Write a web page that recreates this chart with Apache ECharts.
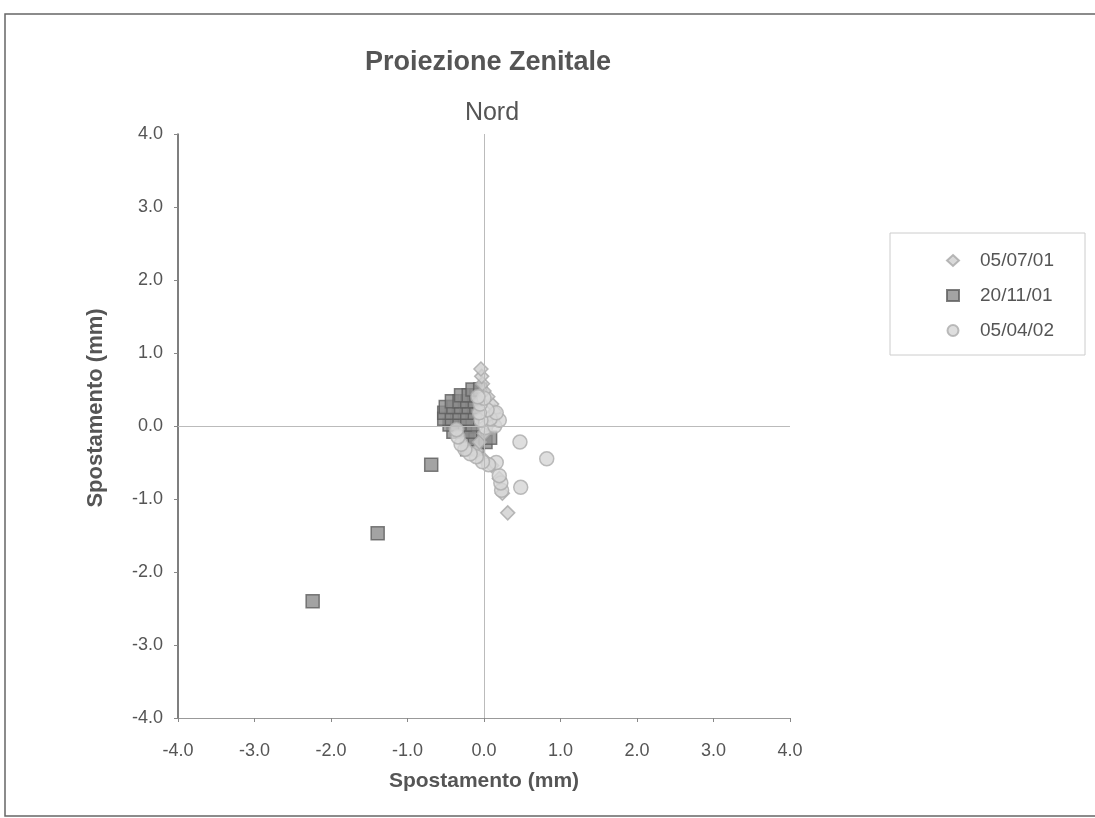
<!DOCTYPE html>
<html><head><meta charset="utf-8">
<script src="https://cdn.jsdelivr.net/npm/echarts@6/dist/echarts.min.js"></script>
<style>html,body{margin:0;padding:0;background:#fff}#c{width:1095px;height:818px}</style>
</head><body><div id="c"></div>
<script>
var seriesNames = ['05/07/01', '20/11/01', '05/04/02'];
var axisTicks = [-4, -3, -2, -1, 0, 1, 2, 3, 4];
// 05/07/01 – diamonds
var s050701 = [
  [0.31,-1.19],[0.24,-0.92],[0.20,-0.72],[0.10,-0.54],[0.00,-0.46],[-0.10,-0.34],
  [-0.06,-0.22],[0.00,-0.10],[0.06,0.02],[0.12,0.10],[0.14,0.20],[0.10,0.30],
  [0.05,0.40],[0.00,0.48],[-0.02,0.58],[-0.03,0.68],[-0.04,0.78]
];
// 20/11/01 – squares
var s201101 = [
  [-2.24,-2.40],[-1.39,-1.47],[-0.69,-0.53],
  [-0.22,-0.32],[-0.15,-0.30],[-0.08,-0.28],[-0.22,-0.18],[-0.12,-0.18],
  [-0.40,-0.08],[-0.28,-0.08],[-0.18,-0.08],
  [-0.45,0.02],[-0.35,0.02],[-0.25,0.02],[-0.15,0.02],
  [-0.52,0.10],[-0.42,0.10],[-0.32,0.10],[-0.22,0.10],
  [-0.52,0.18],[-0.42,0.18],[-0.32,0.18],[-0.22,0.18],[-0.12,0.18],
  [-0.50,0.26],[-0.40,0.26],[-0.30,0.26],[-0.20,0.26],[-0.10,0.26],
  [-0.42,0.34],[-0.32,0.34],[-0.22,0.34],[-0.12,0.34],
  [-0.30,0.42],[-0.20,0.42],[-0.10,0.42],
  [-0.15,0.50],[-0.05,0.50],
  [0.02,-0.22],[0.08,-0.16]
];
// 05/04/02 – circles
var s050402 = [
  [0.82,-0.45],[0.47,-0.22],[0.48,-0.84],[0.23,-0.88],[0.22,-0.78],[0.20,-0.68],
  [0.16,-0.50],[0.06,-0.53],[-0.02,-0.49],[-0.10,-0.42],[-0.18,-0.38],[-0.25,-0.32],
  [-0.30,-0.25],[-0.34,-0.15],[-0.36,-0.05],
  [0.02,-0.02],[0.14,0.00],[0.20,0.08],[0.08,0.10],[-0.04,0.08],
  [0.16,0.18],[0.04,0.22],[-0.06,0.18],[-0.05,0.30],[0.00,0.38],[-0.08,0.40]
];

var chart = echarts.init(document.getElementById('c'));
var txt = '#555';
var fam = 'Liberation Sans, Arial, sans-serif';
function axisCommon(name, gap, isY) {
  return {
    type: 'value', min: -4, max: 4, interval: 1,
    name: name, nameLocation: 'middle', nameGap: gap,
    nameTextStyle: {color: txt, fontSize: isY ? 22 : 21, fontWeight: 'bold', fontFamily: fam,
      padding: isY ? [0, 0, 0, 36] : 0},
    axisLine: {show: true, onZero: false, lineStyle: {color: isY ? '#555' : '#999', width: isY ? 1.5 : 1}},
    axisTick: {show: true, length: 4, lineStyle: {color: '#888'}},
    axisLabel: {color: txt, fontSize: 18, fontFamily: fam, margin: isY ? 15 : 24,
      formatter: function (v) { return axisTicks.indexOf(v) >= 0 ? v.toFixed(1) : ''; }},
    splitLine: {show: false}
  };
}
chart.setOption({
  backgroundColor: '#fff',
  animation: false,
  title: [
    {text: 'Proiezione Zenitale', left: 483, top: 44, textAlign: 'center',
     textStyle: {color: txt, fontSize: 27, fontWeight: 'bold', fontFamily: fam}},
    {text: 'Nord', left: 487, top: 96, textAlign: 'center',
     textStyle: {color: txt, fontSize: 25, fontWeight: 'normal', fontFamily: fam}}
  ],
  graphic: [
    {type: 'rect', shape: {x: 5, y: 14, width: 1100, height: 802},
     style: {fill: 'none', stroke: '#666', lineWidth: 1.5}, silent: true},
    {type: 'rect', shape: {x: 890, y: 233, width: 195, height: 122},
     style: {fill: 'none', stroke: '#ccc', lineWidth: 1}, silent: true}
  ],
  legend: {
    data: seriesNames, orient: 'vertical', left: 941, top: 246, itemGap: 16,
    itemWidth: 12, itemHeight: 11,
    textStyle: {color: txt, fontSize: 19, fontFamily: fam, padding: [0, 0, 0, 16]}
  },
  grid: {left: 178, right: 305, top: 134, bottom: 100},
  xAxis: axisCommon('Spostamento (mm)', 53, false),
  yAxis: axisCommon('Spostamento (mm)', 71, true),
  series: [
    {name: '20/11/01', type: 'scatter', symbol: 'rect', symbolSize: 13, z: 2,
     data: s201101,
     itemStyle: {color: '#8c8c8c', borderColor: '#5e5e5e', borderWidth: 1.5},
     markLine: {silent: true, symbol: 'none', label: {show: false},
       lineStyle: {color: '#bbb', type: 'solid', width: 1},
       data: [{xAxis: 0}, {yAxis: 0}]}},
    {name: '05/07/01', type: 'scatter', symbol: 'diamond', symbolSize: 14, z: 3,
     data: s050701,
     itemStyle: {color: '#cfcfcf', borderColor: '#a8a8a8', borderWidth: 1.5}},
    {name: '05/04/02', type: 'scatter', symbol: 'circle', symbolSize: 14, z: 4,
     data: s050402,
     itemStyle: {color: '#d6d6d6', borderColor: '#ababab', borderWidth: 1.5}}
  ]
});
</script></body></html>
